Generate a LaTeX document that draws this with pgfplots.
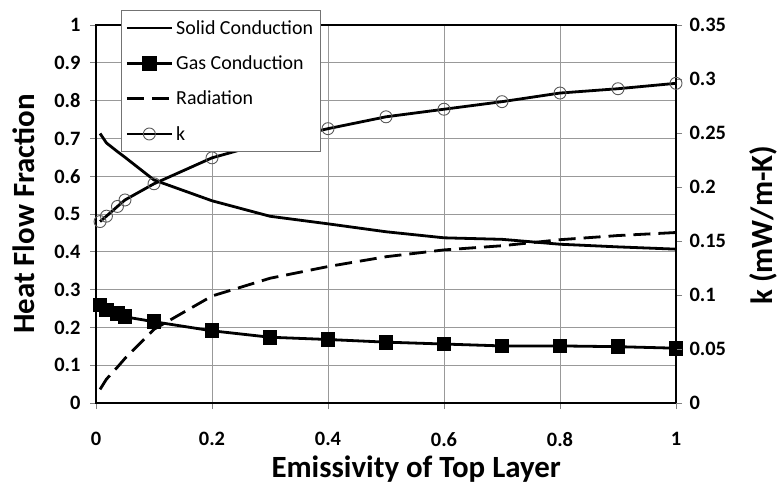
\documentclass[border=0pt]{standalone}
\usepackage{fontspec}
\setmainfont{Carlito}
\usepackage{pgfplots}
\pgfplotsset{compat=1.18}

\begin{document}
\begin{tikzpicture}
\pgfplotsset{
  every axis/.append style={
    scale only axis, width=580bp, height=378bp,
    xmin=0, xmax=1,
    tick align=outside, major tick length=6bp,
    tick style={line width=0.8bp, black!50},
    /pgf/number format/assume math mode=true,
    /pgf/number format/fixed,
    /pgf/number format/precision=2,
    scaled ticks=false,
    tick label style={font=\fontsize{20.5}{20.5}\selectfont\bfseries},
    label style={font=\fontsize{31}{31}\selectfont\bfseries},
    axis line style={line width=2.8bp},
  },
  solidc/.style={black, line width=2.8bp, no markers},
  gasc/.style={black, line width=2.8bp, mark=square*, mark size=6bp, mark options={solid}},
  radc/.style={black, line width=2.8bp, dash pattern=on 17bp off 8bp, no markers},
  kc/.style={black, line width=2.8bp, mark=o, mark size=6bp, mark options={draw=black!65, line width=0.9bp, fill=none, solid}},
}
% left axis: heat flow fractions
\begin{axis}[
  ymin=0, ymax=1,
  xtick={0,0.2,0.4,0.6,0.8,1},
  ytick={0,0.1,0.2,0.3,0.4,0.5,0.6,0.7,0.8,0.9,1},
  xtick pos=bottom, ytick pos=left,
  grid=major, grid style={black!40, line width=0.8bp},
  xticklabel style={yshift=-20bp},
  yticklabel style={xshift=-6bp},
  xlabel={Emissivity of Top Layer},
  xlabel style={at={(axis description cs:0.552,-0.196)}, anchor=base},
  ylabel={Heat Flow Fraction},
  ylabel style={at={(axis description cs:-0.124,0.5)}, anchor=center},
]
\addplot[solidc] coordinates {
  (0.007,0.713) (0.018,0.688) (0.037,0.665) (0.05,0.650) (0.1,0.590) (0.2,0.535)
  (0.3,0.494) (0.4,0.474) (0.5,0.453) (0.6,0.437) (0.7,0.433) (0.8,0.420)
  (0.9,0.413) (1,0.407)};
\addplot[gasc] coordinates {
  (0.007,0.259) (0.018,0.246) (0.037,0.236) (0.05,0.228) (0.1,0.215) (0.2,0.191)
  (0.3,0.174) (0.4,0.168) (0.5,0.161) (0.6,0.156) (0.7,0.151) (0.8,0.151)
  (0.9,0.149) (1,0.145)};
\addplot[radc] coordinates {
  (0.007,0.036) (0.018,0.063) (0.037,0.095) (0.05,0.118) (0.1,0.195) (0.2,0.283)
  (0.3,0.330) (0.4,0.361) (0.5,0.387) (0.6,0.405) (0.7,0.416) (0.8,0.432)
  (0.9,0.443) (1,0.451)};
\end{axis}
% right axis: k
\begin{axis}[
  axis y line*=right, axis x line=none,
  ymin=0, ymax=0.35,
  ytick={0,0.05,0.1,0.15,0.2,0.25,0.3,0.35},
  yticklabel style={xshift=4bp},
  ylabel={k (mW/m-K)},
  ylabel style={at={(axis description cs:1.15,0.47)}, anchor=center},
  legend image code/.code={\draw[#1, mark repeat=2, mark phase=2] plot coordinates {(0bp,0bp) (22.5bp,0bp) (45bp,0bp)};},
  legend cell align=left,
  legend style={at={(0.043,1.04)}, anchor=north west, draw=black!55, line width=1bp, fill=white,
    font=\fontsize{20}{20}\selectfont, row sep=16bp, inner xsep=4bp, inner ysep=8bp,
    nodes={inner xsep=3bp}},
]
\addlegendimage{solidc}
\addlegendimage{gasc}
\addlegendimage{radc}
\addplot[kc] coordinates {
  (0.007,0.168) (0.018,0.173) (0.037,0.182) (0.05,0.188) (0.1,0.203) (0.2,0.227)
  (0.3,0.242) (0.4,0.254) (0.5,0.265) (0.6,0.272) (0.7,0.279) (0.8,0.287)
  (0.9,0.291) (1,0.296)};
\legend{Solid Conduction, Gas Conduction, Radiation, k}
\end{axis}
\path (-96bp,-84bp) rectangle (686bp,403bp);
\end{tikzpicture}
\end{document}
